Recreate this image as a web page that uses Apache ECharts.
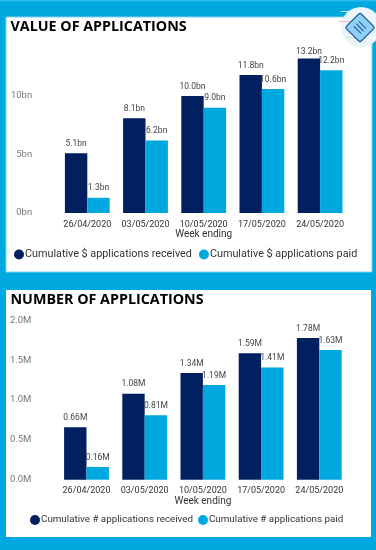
<!DOCTYPE html>
<html>
<head>
<meta charset="utf-8">
<title>Applications</title>
<script src="https://cdn.jsdelivr.net/npm/echarts@6/dist/echarts.min.js"></script>
<style>
    html, body {margin: 0; padding: 0; background: #00a8e0;}
    #chart {width: 376px; height: 550px;}
</style>
</head>
<body>
<div id="chart"></div>
<script>
var weeks = ['26/04/2020', '03/05/2020', '10/05/2020', '17/05/2020', '24/05/2020'];
var valueReceived = [5.1, 8.1, 10.0, 11.8, 13.2];
var valuePaid = [1.3, 6.2, 9.0, 10.6, 12.2];
var numberReceived = [0.66, 1.08, 1.34, 1.59, 1.78];
var numberPaid = [0.16, 0.81, 1.19, 1.41, 1.63];

var NAVY = '#002060', BLUE = '#00a8e0';
var FONT = 'Roboto';

function xAxis(gridIndex) {
    return {
        type: 'category',
        gridIndex: gridIndex,
        data: weeks,
        name: 'Week ending',
        nameLocation: 'middle',
        nameGap: 15,
        nameTextStyle: {color: '#333', fontFamily: FONT, fontSize: 10},
        axisLine: {show: false},
        axisTick: {show: false},
        axisLabel: {color: '#333', fontFamily: FONT, fontSize: 9, margin: 7, interval: 0}
    };
}

function yAxis(gridIndex, max, interval, fmt, showMax) {
    return {
        type: 'value',
        gridIndex: gridIndex,
        min: 0,
        max: max,
        interval: interval,
        splitLine: {show: false},
        axisLine: {show: false},
        axisTick: {show: false},
        axisLabel: {
            color: '#777', fontFamily: FONT, fontSize: 9.5, margin: 26,
            showMaxLabel: showMax, formatter: fmt
        }
    };
}

function barSeries(name, data, color, axisIndex, fmt, tightIndex) {
    return {
        name: name,
        type: 'bar',
        xAxisIndex: axisIndex,
        yAxisIndex: axisIndex,
        // the highest label sits closer to its bar in the reference
        data: data.map(function (v, i) {
            return i === tightIndex ? {value: v, label: {distance: 2}} : v;
        }),
        barWidth: 22.4,
        barGap: 0,
        itemStyle: {color: color},
        label: {
            show: true, position: 'top', distance: 5,
            color: '#444', fontFamily: FONT, fontSize: 8.5,
            formatter: function (p) { return fmt(p.value); }
        }
    };
}

function legend(left, top, names, gap, size) {
    return {
        left: left,
        top: top,
        data: names,
        icon: 'circle',
        itemWidth: 10,
        itemHeight: 10,
        itemGap: gap,
        padding: 0,
        textStyle: {color: '#333', fontFamily: FONT, fontSize: size, padding: [0, 0, 0, -4]}
    };
}

function bn(v) { return v.toFixed(1) + 'bn'; }
function mil(v) { return v.toFixed(2) + 'M'; }

var option = {
    animation: false,
    backgroundColor: BLUE,
    title: [
        {text: 'VALUE OF APPLICATIONS', left: 10.5, top: 20, padding: 0,
            textStyle: {color: '#000', fontFamily: 'Open Sans', fontWeight: 'bold', fontSize: 14.3}},
        {text: 'NUMBER OF APPLICATIONS', left: 10.5, top: 293, padding: 0,
            textStyle: {color: '#000', fontFamily: 'Open Sans', fontWeight: 'bold', fontSize: 14.3}}
    ],
    legend: [
        legend(14, 249, ['Cumulative $ applications received', 'Cumulative $ applications paid'], 7, 10.8),
        legend(30, 515, ['Cumulative # applications received', 'Cumulative # applications paid'], 5, 9.8)
    ],
    grid: [
        {left: 58.2, right: 26.8, top: 37.5, height: 175.5},
        {left: 57.4, right: 27.6, top: 320.5, height: 159.2}
    ],
    xAxis: [xAxis(0), xAxis(1)],
    yAxis: [
        yAxis(0, 15, 5, '{value}bn', false),
        yAxis(1, 2, 0.5, function (v) { return v.toFixed(1) + 'M'; }, true)
    ],
    series: [
        barSeries('Cumulative $ applications received', valueReceived, NAVY, 0, bn, 4),
        barSeries('Cumulative $ applications paid', valuePaid, BLUE, 0, bn),
        barSeries('Cumulative # applications received', numberReceived, NAVY, 1, mil),
        barSeries('Cumulative # applications paid', numberPaid, BLUE, 1, mil)
    ],
    graphic: [
        // white panels and the thin lighter edges round them
        {type: 'rect', z: -10, shape: {x: 0, y: 0, width: 376, height: 1.5}, style: {fill: '#2cbcec'}},
        {type: 'rect', z: -10, shape: {x: 6, y: 17, width: 366, height: 255}, style: {fill: '#fff', stroke: '#7fd3ef', lineWidth: 1}},
        {type: 'rect', z: -10, shape: {x: 6, y: 290, width: 365, height: 247}, style: {fill: '#fff'}},
        // icon at the top right
        {type: 'circle', z: 50, shape: {cx: 361, cy: 27, r: 20}, style: {fill: '#eaf6fb'}},
        {type: 'rect', z: 51, shape: {x: 341, y: 11, width: 9, height: 1}, style: {fill: '#cfeaf5'}},
        {type: 'rect', z: 51, shape: {x: 339, y: 21, width: 10, height: 1}, style: {fill: '#f0b8c4'}},
        {type: 'rect', z: 51, shape: {x: 346, y: 37, width: 8, height: 1}, style: {fill: '#c9d6dc'}},
        {
            type: 'group', x: 360, y: 27.5, rotation: -Math.PI / 4,
            children: [
                {type: 'rect', z: 52, shape: {x: -10.5, y: -10.5, width: 21, height: 21, r: 2},
                    style: {fill: '#8fd0f5', stroke: '#1d4f8f', lineWidth: 1.2}},
                {type: 'rect', z: 53, shape: {x: -5, y: -4, width: 10, height: 1}, style: {fill: '#1d4f8f'}},
                {type: 'rect', z: 53, shape: {x: -5, y: -0.5, width: 10, height: 1}, style: {fill: '#1d4f8f'}},
                {type: 'rect', z: 53, shape: {x: -5, y: 3, width: 10, height: 1}, style: {fill: '#1d4f8f'}}
            ]
        }
    ]
};

var chart = echarts.init(document.getElementById('chart'));
chart.setOption(option);
</script>
</body>
</html>
